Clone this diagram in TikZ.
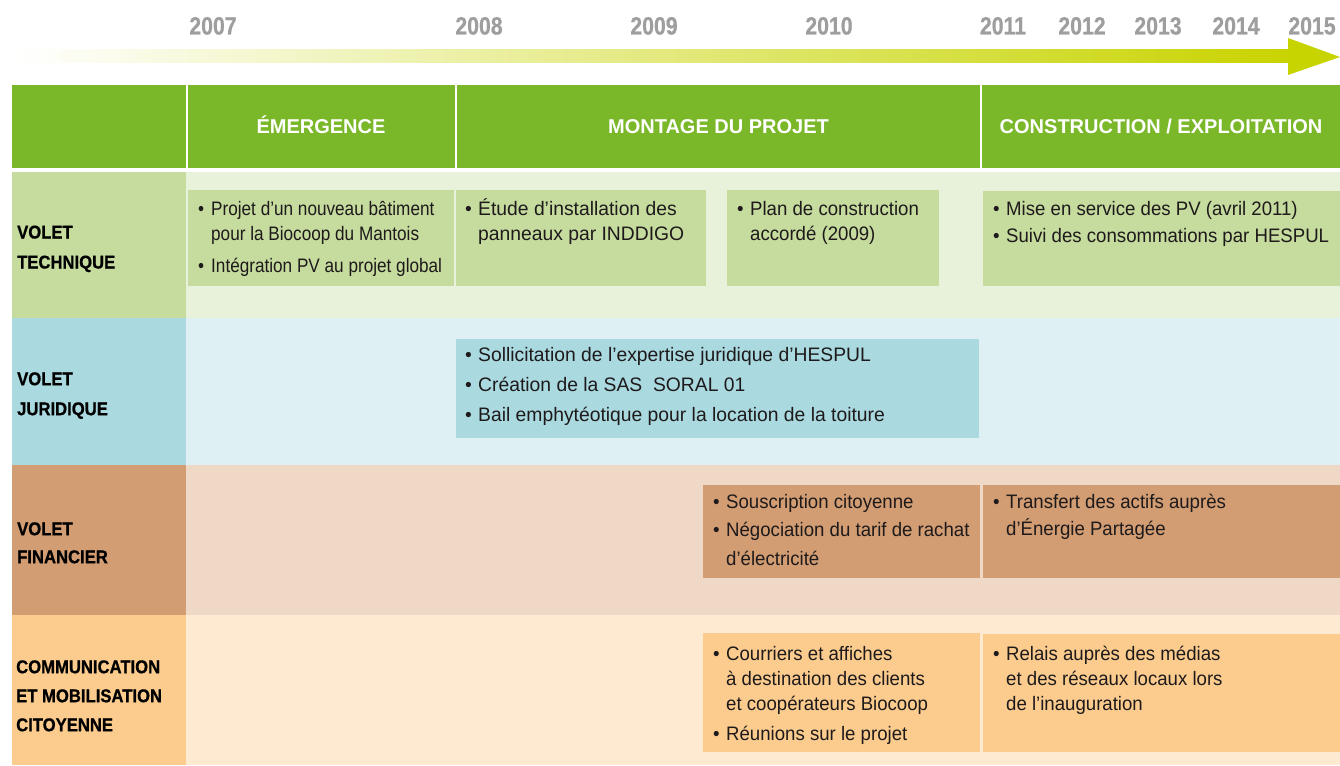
\documentclass[tikz,border=0pt]{standalone}
\usepackage{fontspec}
\setmainfont{Liberation Sans}
\newfontfamily\bodyf{Liberation Sans}[FakeStretch=0.955]
\newfontfamily\bodyn{Liberation Sans}[FakeStretch=0.88]
\newfontfamily\bodyw{Liberation Sans}[FakeStretch=0.99]
\newfontfamily\labf{Liberation Sans}[FakeStretch=0.9,FakeBold=0.8]
\newfontfamily\yearf{Liberation Sans}[FakeStretch=0.85,FakeBold=0.6]
\definecolor{hdrc}{RGB}{122,184,42}
\definecolor{yearc}{RGB}{158,158,158}
\definecolor{arrc}{RGB}{200,212,0}
\definecolor{techL}{RGB}{198,219,158}
\definecolor{techB}{RGB}{232,241,218}
\definecolor{jurL}{RGB}{170,218,224}
\definecolor{jurB}{RGB}{222,240,244}
\definecolor{finL}{RGB}{211,157,115}
\definecolor{finB}{RGB}{240,216,198}
\definecolor{comL}{RGB}{251,204,142}
\definecolor{comB}{RGB}{253,234,209}
\definecolor{txtc}{RGB}{30,26,27}
\newcommand{\bu}{\makebox[13pt][l]{\textbullet}}
\newcommand{\ct}{\hspace*{13pt}}
\newcommand{\fs}{\rule{0pt}{20pt}}
\begin{document}
\begin{tikzpicture}[x=1pt,y=-1pt,
  yearlab/.style={anchor=base, inner sep=0pt, text=yearc, font=\yearf\bfseries\fontsize{25}{28}\selectfont},
  hdrlab/.style={anchor=base, inner sep=0pt, text=white, font=\bfseries\fontsize{20}{24}\selectfont},
  rowlab/.style={anchor=north west, inner sep=0pt, align=left, text=black},
  boxtxt/.style={anchor=north west, inner sep=0pt, align=left, text=txtc}]
\useasboundingbox (0,0) rectangle (1340,765);
\fill[white] (0,0) rectangle (1340,765);
% years
\node[yearlab] (y2007) at (213,34.5) {2007};
\node[yearlab] (y2008) at (479,34.5) {2008};
\node[yearlab] (y2009) at (654,34.5) {2009};
\node[yearlab] (y2010) at (829,34.5) {2010};
\node[yearlab] (y2011) at (1003,34.5) {2011};
\node[yearlab] (y2012) at (1082,34.5) {2012};
\node[yearlab] (y2013) at (1158,34.5) {2013};
\node[yearlab] (y2014) at (1236,34.5) {2014};
\node[yearlab] (y2015) at (1312,34.5) {2015};
% timeline arrow
\shade[left color=white, right color=arrc] (15,50) rectangle (1289,63);
\fill[arrc] (1288,38) -- (1340,57) -- (1288,75) -- cycle;
% header
\fill[hdrc] (12,85) rectangle (186,168);
\fill[hdrc] (188,85) rectangle (455,168);
\fill[hdrc] (457,85) rectangle (980,168);
\fill[hdrc] (982,85) rectangle (1340,168);
\node[hdrlab] (h1) at (321,133) {ÉMERGENCE};
\node[hdrlab] (h2) at (718.5,133) {MONTAGE DU PROJET};
\node[hdrlab] (h3) at (1161,133) {CONSTRUCTION / EXPLOITATION};
% row backgrounds
\fill[techL] (12,172) rectangle (186,318);
\fill[techB] (186,172) rectangle (1340,318);
\fill[jurL] (12,318) rectangle (186,465);
\fill[jurB] (186,318) rectangle (1340,465);
\fill[finL] (12,465) rectangle (186,615);
\fill[finB] (186,465) rectangle (1340,615);
\fill[comL] (12,615) rectangle (186,765);
\fill[comB] (186,615) rectangle (1340,765);
% row labels
\node[rowlab, font=\labf\bfseries\fontsize{18.5}{30}\selectfont] (ltech) at (17,218.3) {\fs VOLET\\TECHNIQUE};
\node[rowlab, font=\labf\bfseries\fontsize{18.5}{30}\selectfont] (ljur) at (17,365) {\fs VOLET\\JURIDIQUE};
\node[rowlab, font=\labf\bfseries\fontsize{18.5}{28}\selectfont] (lfin) at (17,515) {\fs VOLET\\FINANCIER};
\node[rowlab, font=\labf\bfseries\fontsize{18.5}{29}\selectfont] (lcom) at (16,653) {\fs COMMUNICATION\\ET MOBILISATION\\CITOYENNE};
% technique boxes
\fill[techL] (188,190) rectangle (454,286);
\fill[techL] (456,190) rectangle (706,286);
\fill[techL] (727,190) rectangle (939,286);
\fill[techL] (983,191) rectangle (1340,286);
\node[boxtxt, font=\bodyn\fontsize{19.5}{25}\selectfont] (t1) at (198,195.7)
  {\fs\bu Projet d’un nouveau bâtiment\\\ct pour la Biocoop du Mantois\\[7pt]\bu Intégration PV au projet global};
\node[boxtxt, font=\bodyw\fontsize{19.5}{25}\selectfont] (t2) at (465,195)
  {\fs\bu Étude d’installation des\\\ct panneaux par INDDIGO};
\node[boxtxt, font=\bodyf\fontsize{19.5}{25}\selectfont] (t3) at (737,195)
  {\fs\bu Plan de construction\\\ct accordé (2009)};
\node[boxtxt, font=\bodyf\fontsize{19.5}{27}\selectfont] (t4) at (993,195)
  {\fs\bu Mise en service des PV (avril 2011)\\\bu Suivi des consommations par HESPUL};
% juridique box
\fill[jurL] (456,339) rectangle (979,438);
\node[boxtxt, font=\bodyw\fontsize{19.5}{30}\selectfont] (j1) at (465,341.7)
  {\fs\bu Sollicitation de l’expertise juridique d’HESPUL\\\bu Création de la SAS\ \ SORAL 01\\\bu Bail emphytéotique pour la location de la toiture};
% financier boxes
\fill[finL] (703,485) rectangle (980,578);
\fill[finL] (983,485) rectangle (1340,578);
\node[boxtxt, font=\bodyf\fontsize{19.5}{28.5}\selectfont] (f1) at (713,488)
  {\fs\bu Souscription citoyenne\\\bu Négociation du tarif de rachat\\\ct d’électricité};
\node[boxtxt, font=\bodyf\fontsize{19.5}{27}\selectfont] (f2) at (993,488)
  {\fs\bu Transfert des actifs auprès\\\ct d’Énergie Partagée};
% communication boxes
\fill[comL] (703,633) rectangle (980,752);
\fill[comL] (983,634) rectangle (1340,752);
\node[boxtxt, font=\bodyf\fontsize{19.5}{25}\selectfont] (c1) at (713,640)
  {\fs\bu Courriers et affiches\\\ct à destination des clients\\\ct et coopérateurs Biocoop\\[5.7pt]\bu Réunions sur le projet};
\node[boxtxt, font=\bodyf\fontsize{19.5}{25}\selectfont] (c2) at (993,640)
  {\fs\bu Relais auprès des médias\\\ct et des réseaux locaux lors\\\ct de l’inauguration};
\end{tikzpicture}
\end{document}
